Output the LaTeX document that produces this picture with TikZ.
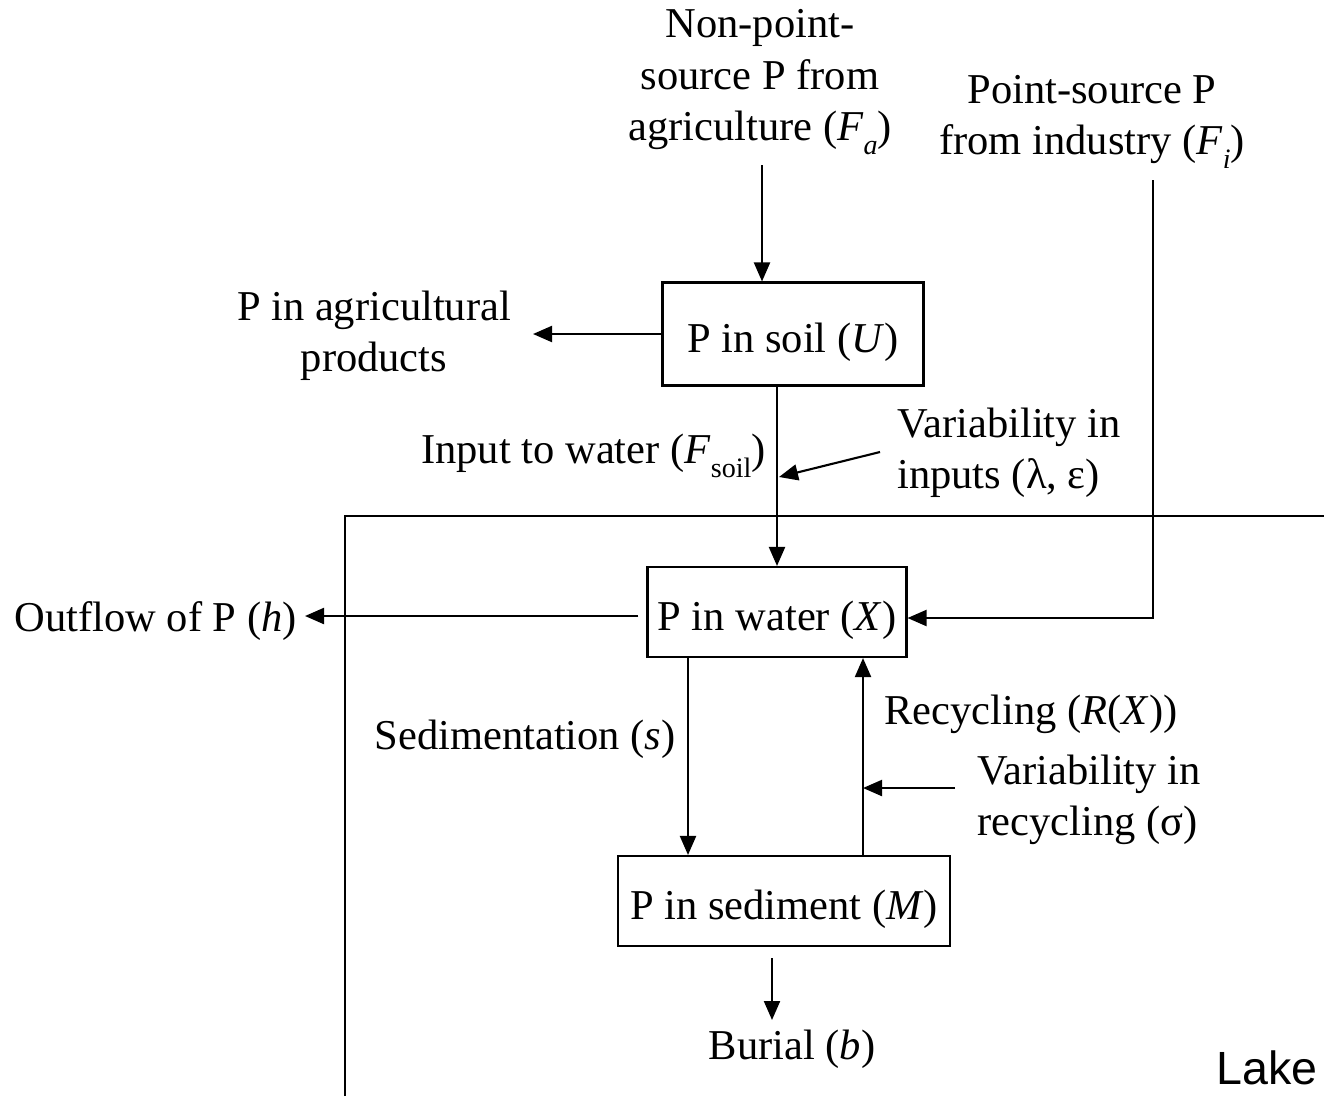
\documentclass[tikz,border=0pt]{standalone}
\usepackage{fontspec}
\setmainfont{Liberation Serif}
\setsansfont{Liberation Sans}
\usetikzlibrary{arrows.meta,positioning,calc}
\newcommand\lowsub[1]{\raisebox{-0.32em}{\fontsize{16}{16}\selectfont #1}}

\begin{document}
\begin{tikzpicture}[
    x=0.02cm, y=-0.02cm,
    font=\fontsize{24.2}{29.2}\selectfont,
    >={Triangle[length=3.8mm, width=3.2mm]},
    pool/.style={draw, line width=1.2pt, inner sep=0pt, minimum height=18mm, text height=7.2mm, text depth=0pt},
    lbl/.style={inner sep=0pt, align=center},
    flow/.style={->, line width=1.2pt}
]
\useasboundingbox (0,0) rectangle (1324,1096);

\node[pool, minimum width=52.2mm, minimum height=20.6mm] (soil) at (793,334) {P in soil (\textit{U})};
\node[pool, minimum width=51.8mm] (water) at (777,612) {P in water (\textit{X})};
\node[pool, minimum width=66.4mm] (sed) at (784,901) {P in sediment (\textit{M})};

\node[lbl] (fa) at (760,82) {Non-point-\\source P from\\agriculture (\textit{F}\lowsub{\textit{a}})};
\node[lbl] (fi) at (1092,122) {Point-source P\\from industry (\textit{F}\lowsub{\textit{i}})};
\node[lbl] (prod) at (374,336) {P in agricultural\\products};
\node[lbl, align=left, anchor=west] (varin) at (897,453) {Variability in\\inputs (λ, ε)};
\node[lbl, anchor=east] (fsoil) at (766,456) {Input to water (\textit{F}\lowsub{soil})};
\node[lbl, anchor=east] (outflow) at (297,621) {Outflow of P (\textit{h})};
\node[lbl, anchor=east] (sedlbl) at (676,739) {Sedimentation (\textit{s})};
\node[lbl, anchor=west] (recyc) at (884,714) {Recycling (\textit{R}(\textit{X}))};
\node[lbl, align=left, anchor=west] (varrec) at (977,800) {Variability in\\recycling (σ)};
\node[lbl] (burial) at (792,1049) {Burial (\textit{b})};
\node[lbl, anchor=east, font=\sffamily\fontsize{26.5}{30}\selectfont] (lake) at (1318,1068) {Lake};

\coordinate (fa-tail) at (762,165);
\coordinate (fi-tail) at (1153,180);
\coordinate (prod-tip) at (533,334);
\coordinate (out-tip) at (305,616);
\coordinate (varin-tail) at (880,452);
\coordinate (varin-tip) at (779,477);
\coordinate (sed-x) at (688,0);
\coordinate (rec-x) at (863,0);
\coordinate (varrec-tail) at (955,788);
\coordinate (bur-tail) at (772,958);
\coordinate (bur-tip) at (772,1020);

\draw[line width=1.2pt] (345,1096) |- (1324,516);

\draw[flow] (fa-tail) -- (fa-tail |- soil.north);
\draw[flow] (soil.west |- prod-tip) -- (prod-tip);
\draw[flow] (soil.south -| water.north) -- (water.north);
\draw[flow] (varin-tail) -- (varin-tip);
\draw[flow] (fi-tail) |- ($(water.east)+(0,6)$);
\draw[flow] ($(water.west)+(-8,4)$) -- (out-tip);
\draw[flow] (water.south -| sed-x) -- (sed.north -| sed-x);
\draw[flow] (sed.north -| rec-x) -- (water.south -| rec-x);
\draw[flow] (varrec-tail) -- (varrec-tail -| rec-x);
\draw[flow] (bur-tail) -- (bur-tip);
\end{tikzpicture}
\end{document}
